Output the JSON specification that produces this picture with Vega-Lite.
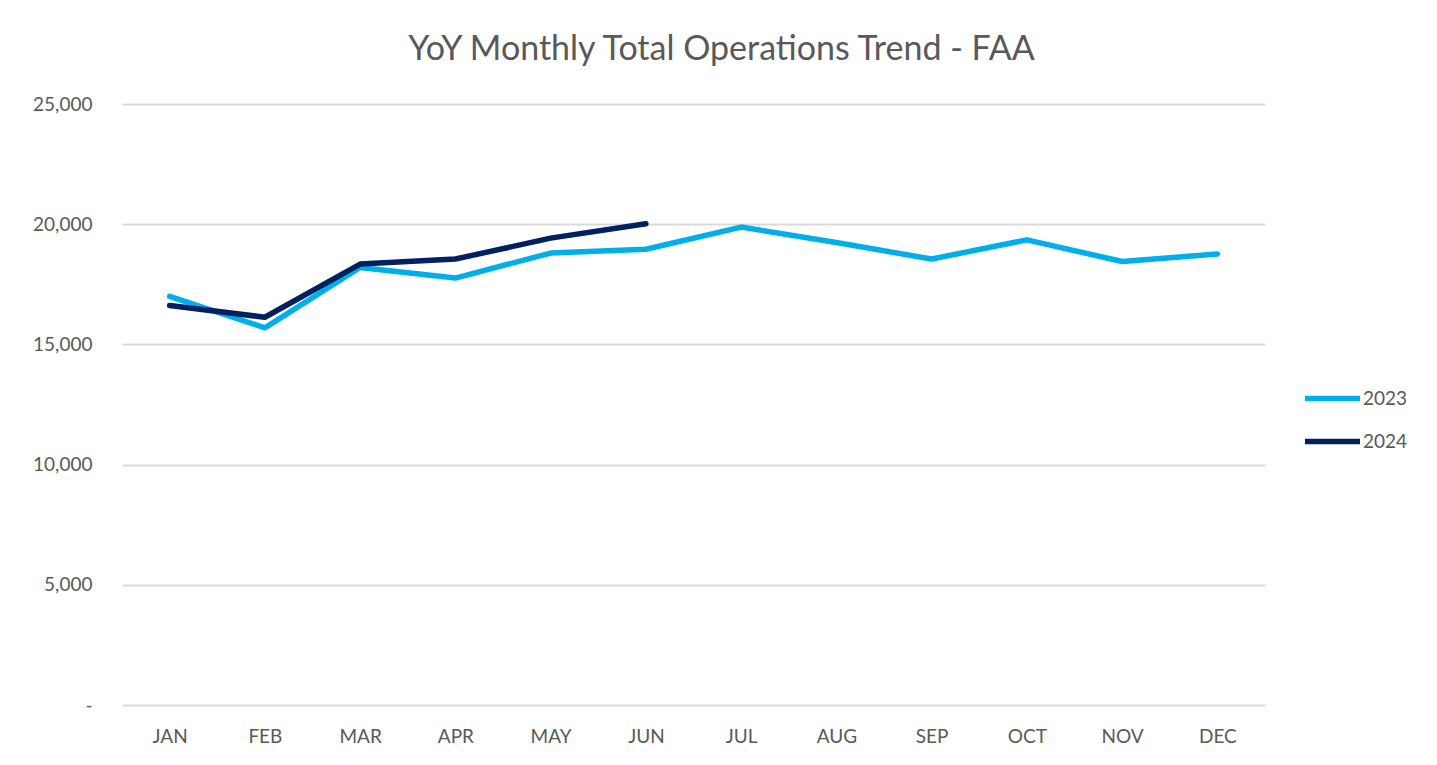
{
  "$schema": "https://vega.github.io/schema/vega-lite/v6.json",
  "width": 1143,
  "height": 601,
  "autosize": "none",
  "padding": {"left": 122, "top": 104, "right": 172, "bottom": 60},
  "background": "white",
  "title": {
    "text": "YoY Monthly Total Operations Trend - FAA",
    "font": "Lato",
    "fontSize": 34,
    "fontWeight": "normal",
    "color": "#595959",
    "anchor": "middle",
    "frame": "group",
    "dx": 28,
    "offset": 28
  },
  "data": {
    "values": [
      {"month": "JAN", "year": "2023", "ops": 17000},
      {"month": "FEB", "year": "2023", "ops": 15690},
      {"month": "MAR", "year": "2023", "ops": 18200},
      {"month": "APR", "year": "2023", "ops": 17760},
      {"month": "MAY", "year": "2023", "ops": 18800},
      {"month": "JUN", "year": "2023", "ops": 18960},
      {"month": "JUL", "year": "2023", "ops": 19880},
      {"month": "AUG", "year": "2023", "ops": 19240},
      {"month": "SEP", "year": "2023", "ops": 18550},
      {"month": "OCT", "year": "2023", "ops": 19350},
      {"month": "NOV", "year": "2023", "ops": 18450},
      {"month": "DEC", "year": "2023", "ops": 18760},
      {"month": "JAN", "year": "2024", "ops": 16620},
      {"month": "FEB", "year": "2024", "ops": 16130},
      {"month": "MAR", "year": "2024", "ops": 18340},
      {"month": "APR", "year": "2024", "ops": 18550},
      {"month": "MAY", "year": "2024", "ops": 19420},
      {"month": "JUN", "year": "2024", "ops": 20020}
    ]
  },
  "mark": {"type": "line", "strokeWidth": 5.5, "strokeCap": "round", "strokeJoin": "round"},
  "encoding": {
    "x": {
      "field": "month",
      "type": "ordinal",
      "sort": ["JAN","FEB","MAR","APR","MAY","JUN","JUL","AUG","SEP","OCT","NOV","DEC"],
      "scale": {"type": "point", "padding": 0.5},
      "axis": {
        "title": null,
        "labelAngle": 0,
        "domain": false,
        "ticks": false,
        "grid": false,
        "labelFont": "Lato",
        "labelFontSize": 19,
        "labelColor": "#595959",
        "labelPadding": 22
      }
    },
    "y": {
      "field": "ops",
      "type": "quantitative",
      "scale": {"domain": [0, 25000], "nice": false},
      "axis": {
        "title": null,
        "values": [0, 5000, 10000, 15000, 20000, 25000],
        "labelExpr": "datum.value == 0 ? '-' : format(datum.value, ',')",
        "domain": false,
        "ticks": false,
        "grid": true,
        "gridColor": "#d9d9d9",
        "gridWidth": 2,
        "labelFont": "Lato",
        "labelFontSize": 19,
        "labelColor": "#595959",
        "labelPadding": 30
      }
    },
    "color": {
      "field": "year",
      "type": "nominal",
      "scale": {"domain": ["2023", "2024"], "range": ["#00AEEA", "#002060"]},
      "legend": {
        "title": null,
        "orient": "none",
        "legendX": 1180,
        "legendY": 264,
        "symbolType": "stroke",
        "symbolSize": 3025,
        "symbolStrokeWidth": 5.5,
        "labelFont": "Lato",
        "labelFontSize": 19,
        "labelColor": "#595959",
        "labelOffset": 0,
        "rowPadding": 1
      }
    }
  },
  "config": {"view": {"stroke": null}}
}
